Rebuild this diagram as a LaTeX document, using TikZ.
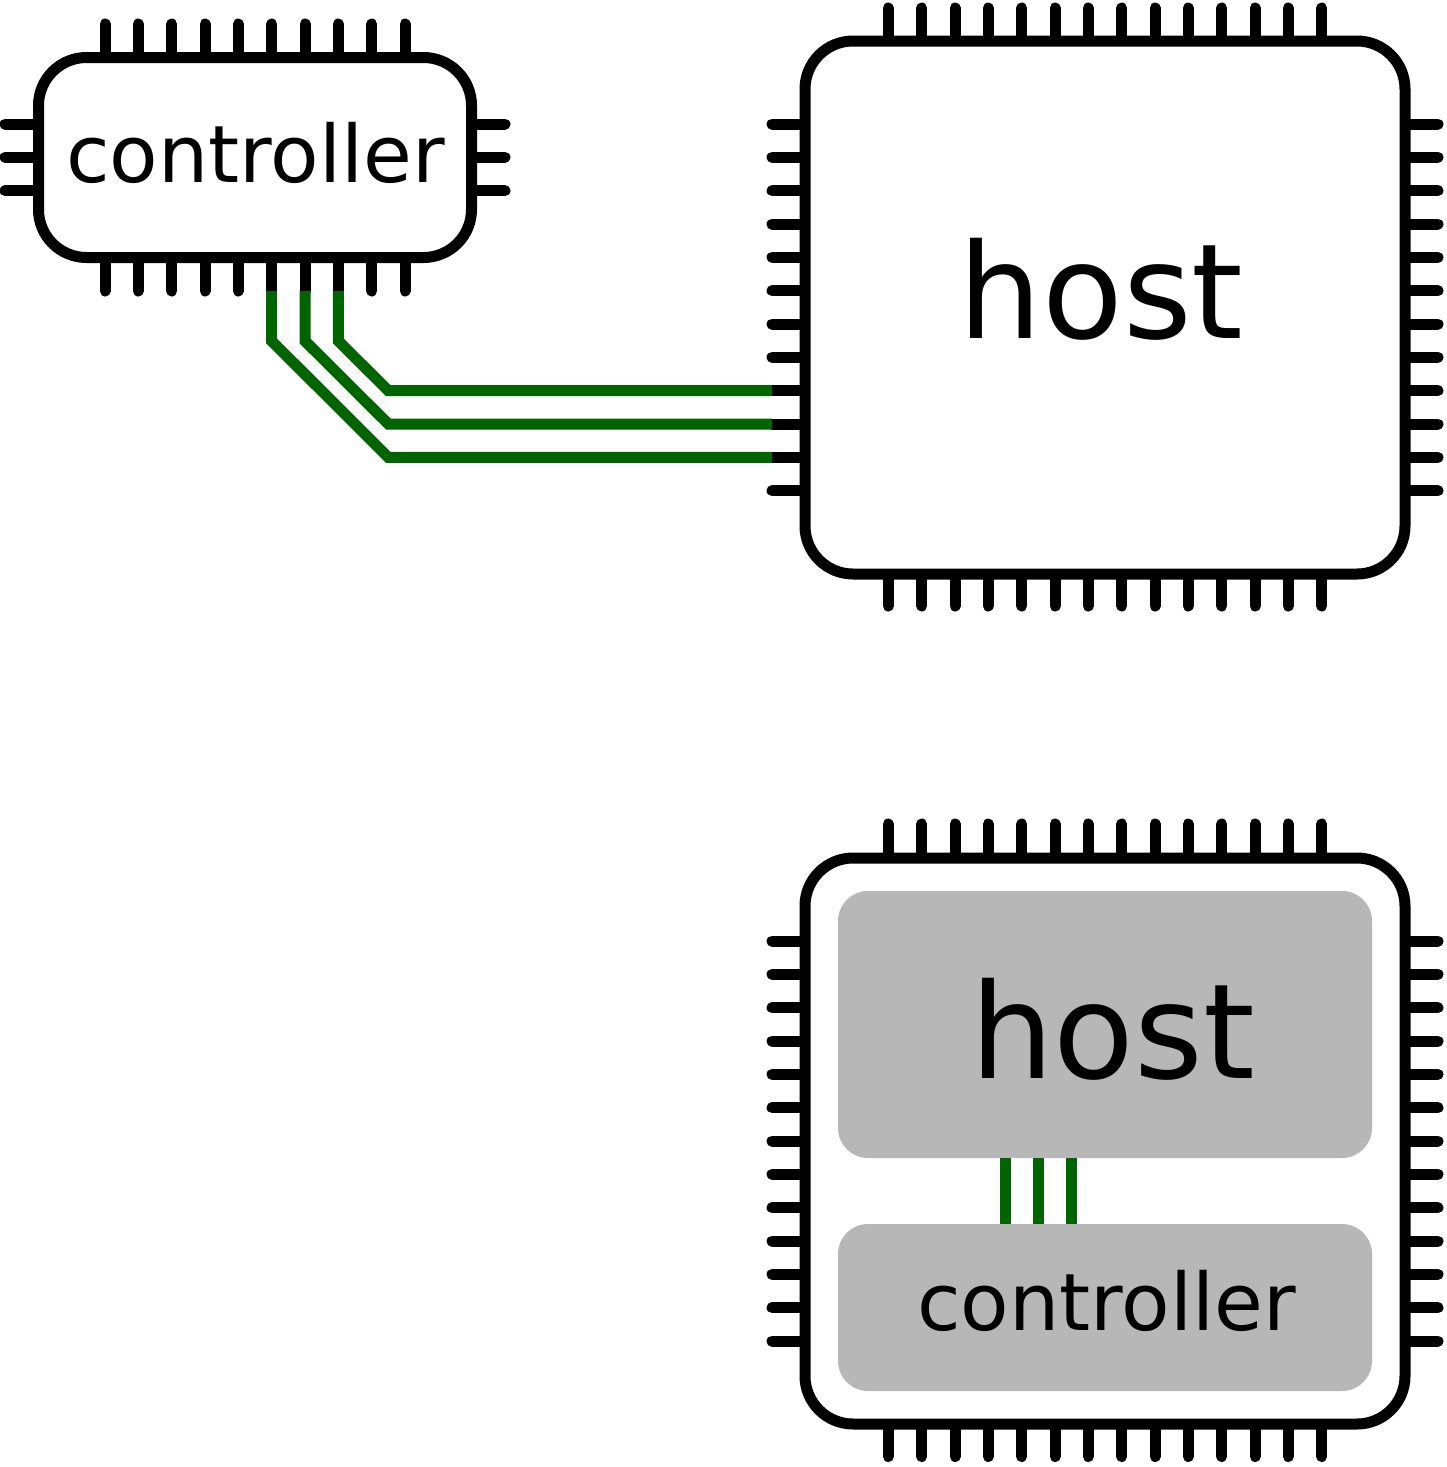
\documentclass[tikz,border=0pt]{standalone}
\usepackage{fontspec}
\setmainfont{DejaVu Sans}
\definecolor{busgreen}{RGB}{0,100,0}
\definecolor{diegray}{RGB}{183,183,183}
\tikzset{
	chip/.style={draw=black,fill=white,line width=11pt,rounded corners=48pt,inner sep=0pt,outer sep=0pt},
	die/.style={fill=diegray,rounded corners=30pt,inner sep=0pt,outer sep=0pt},
	pin/.style={draw=black,line width=11pt,line cap=round},
	bus/.style={draw=busgreen,line width=11pt,miter limit=10},
	smalltext/.style={anchor=base,font=\fontsize{79.3pt}{90pt}\selectfont,inner sep=0pt},
	bigtext/.style={anchor=base,font=\fontsize{132pt}{140pt}\selectfont,inner sep=0pt}
}
\begin{document}
\begin{tikzpicture}[x=1pt,y=-1pt]
	\useasboundingbox (0,0) rectangle (1446,1467);
	% controller, on its own
	\foreach \i in {0,...,9} {
		\coordinate (ctltop\i) at ({105+33.333*\i},24);
		\coordinate (ctlbot\i) at ({105+33.333*\i},291);
		\draw[pin] (ctltop\i) -- ++(0,33);
		\draw[pin] (ctlbot\i) -- ++(0,-33);
	}
	\foreach \i in {0,1,2} {
		\draw[pin] (5,{124+33.333*\i}) -- ++(33,0);
		\draw[pin] (505,{124+33.333*\i}) -- ++(-33,0);
	}
	\node[chip,minimum width=433pt,minimum height=200pt] (ctlchip) at (255,157.5) {};
	\node[smalltext] (ctllabel) at (255.5,182) {controller};
	% host, on its own
	\foreach \i in {0,...,13} {
		\draw[pin] ({888.33+33.333*\i},8) -- ++(0,33);
		\draw[pin] ({888.33+33.333*\i},606) -- ++(0,-33);
	}
	\foreach \i in {0,...,11} {
		\coordinate (hostleft\i) at (772,{124+33.333*\i});
		\draw[pin] (hostleft\i) -- ++(33,0);
		\draw[pin] (1438,{124+33.333*\i}) -- ++(-33,0);
	}
	\node[chip,minimum width=600pt,minimum height=533pt] (hostchip) at (1105,307.5) {};
	\node[bigtext] (hostlabel) at (1101,338) {host};
	% bus between the two
	\coordinate (bendc) at (388.3,0 |- hostleft8);
	\coordinate (bendb) at (388.3,0 |- hostleft9);
	\coordinate (benda) at (388.3,0 |- hostleft10);
	\draw[bus] (ctlbot5) -- ++(0,50) -- (benda) -- (hostleft10);
	\draw[bus] (ctlbot6) -- ++(0,50) -- (bendb) -- (hostleft9);
	\draw[bus] (ctlbot7) -- ++(0,50) -- (bendc) -- (hostleft8);
	% both on one chip
	\foreach \i in {0,...,13} {
		\draw[pin] ({888.33+33.333*\i},824) -- ++(0,33);
		\draw[pin] ({888.33+33.333*\i},1456.5) -- ++(0,-33);
	}
	\foreach \i in {0,...,12} {
		\draw[pin] (772,{941+33.333*\i}) -- ++(33,0);
		\draw[pin] (1438,{941+33.333*\i}) -- ++(-33,0);
	}
	\node[chip,minimum width=600pt,minimum height=566pt] (socchip) at (1105,1141) {};
	\node[die,minimum width=534pt,minimum height=267pt] (hostdie) at (1105,1024.5) {};
	\node[die,minimum width=534pt,minimum height=167pt] (ctldie) at (1105,1307.5) {};
	\node[bigtext] (hostdielabel) at (1112.5,1078) {host};
	\node[smalltext] (ctldielabel) at (1106.5,1330) {controller};
	\foreach \s in {-100,-66.67,-33.33}
		\draw[bus] ([xshift=\s pt]hostdie.south) -- ([xshift=\s pt]ctldie.north);
\end{tikzpicture}
\end{document}
